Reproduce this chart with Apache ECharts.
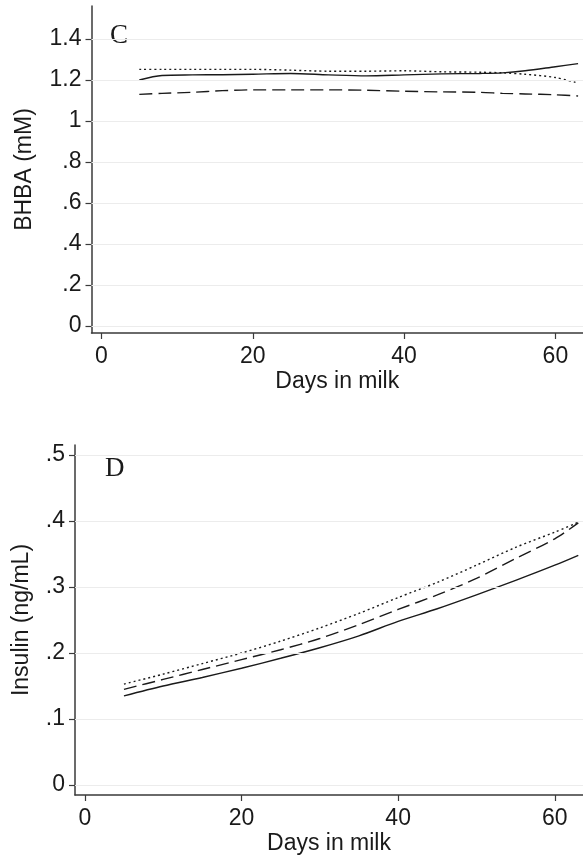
<!DOCTYPE html>
<html>
<head>
<meta charset="utf-8">
<script src="https://cdn.jsdelivr.net/npm/echarts@6/dist/echarts.min.js"></script>
<style>
html,body{margin:0;padding:0;background:#fff;}
#chart{width:583px;height:861px;}
</style>
</head>
<body>
<div id="chart"></div>
<script>
// ---- Panel C: BHBA ----
const bhbaDays   = [5, 8, 12, 16, 20, 25, 30, 35, 40, 45, 50, 53, 56, 60, 63];
const bhbaSolid  = [1.200, 1.222, 1.225, 1.226, 1.228, 1.232, 1.225, 1.220, 1.225, 1.230, 1.232, 1.235, 1.245, 1.265, 1.280];
const bhbaDotted = [1.252, 1.252, 1.252, 1.252, 1.252, 1.248, 1.243, 1.243, 1.245, 1.240, 1.238, 1.235, 1.228, 1.212, 1.185];
const bhbaDashed = [1.130, 1.135, 1.140, 1.148, 1.152, 1.152, 1.152, 1.150, 1.145, 1.142, 1.140, 1.135, 1.132, 1.128, 1.122];
const bhbaTicks  = [0, 0.2, 0.4, 0.6, 0.8, 1, 1.2, 1.4];
const bhbaTickLabels = ['0', '.2', '.4', '.6', '.8', '1', '1.2', '1.4'];

// ---- Panel D: Insulin ----
const insDays   = [5, 10, 15, 20, 25, 30, 35, 40, 45, 50, 55, 60, 63];
const insSolid  = [0.135, 0.150, 0.163, 0.177, 0.192, 0.208, 0.226, 0.248, 0.267, 0.288, 0.310, 0.333, 0.348];
const insDashed = [0.145, 0.160, 0.175, 0.190, 0.205, 0.222, 0.243, 0.266, 0.288, 0.313, 0.343, 0.373, 0.397];
const insDotted = [0.153, 0.168, 0.184, 0.200, 0.218, 0.238, 0.260, 0.284, 0.307, 0.333, 0.360, 0.383, 0.398];
const insTicks  = [0, 0.1, 0.2, 0.3, 0.4, 0.5];
const insTickLabels = ['0', '.1', '.2', '.3', '.4', '.5'];

const xTicks = [0, 20, 40, 60];
const xTickLabels = ['0', '20', '40', '60'];

const FONT = 'Liberation Sans, Arial, sans-serif';
const INK = '#1a1a1a';
const AXIS = '#3a3a3a';
const GRID = '#ececec';

function pairs(xs, ys){ return xs.map((x,i)=>[x, ys[i]]); }
function labelMap(ticks, labels){ const m={}; ticks.forEach((t,i)=>{ m[t.toFixed(3)] = labels[i]; }); return v => m[Number(v).toFixed(3)] ?? ''; }

function xAxisCfg(gridIndex, min, max){
  return {
    type:'value', gridIndex, min, max,
    name:'Days in milk', nameLocation:'middle', nameGap:37,
    nameTextStyle:{fontFamily:FONT, fontSize:23, color:INK},
    axisLine:{show:true, onZero:false, lineStyle:{color:AXIS, width:1.5}},
    axisTick:{show:true, inside:false, length:6, customValues:xTicks, lineStyle:{color:AXIS, width:1.2}},
    axisLabel:{show:true, margin:12, customValues:xTicks, fontFamily:FONT, fontSize:23, color:INK,
      formatter: labelMap(xTicks, xTickLabels)},
    splitLine:{show:false}
  };
}
function yAxisCfg(gridIndex, min, max, name, ticks, labels, nameGap){
  return {
    type:'value', gridIndex, min, max,
    name, nameLocation:'middle', nameGap, nameRotate:90,
    nameTextStyle:{fontFamily:FONT, fontSize:23, color:INK},
    axisLine:{show:true, onZero:false, lineStyle:{color:AXIS, width:1.5}},
    axisTick:{show:true, inside:false, length:6, customValues:ticks, lineStyle:{color:AXIS, width:1.2}},
    axisLabel:{show:true, margin:10, customValues:ticks, fontFamily:FONT, fontSize:23, color:INK,
      formatter: labelMap(ticks, labels)},
    splitLine:{show:false}
  };
}
function gridLines(ticks){
  return {silent:true, symbol:'none', label:{show:false}, animation:false,
    lineStyle:{color:GRID, width:1, type:'solid'},
    data: ticks.map(t=>({yAxis:t}))};
}
function lineSeries(idx, xs, ys, type, extra){
  return Object.assign({
    type:'line', xAxisIndex:idx, yAxisIndex:idx, data:pairs(xs, ys),
    showSymbol:false, symbol:'none', smooth:0.3, animation:false, z:3,
    lineStyle:{color:INK, width:1.4, type}
  }, extra||{});
}

const chart = echarts.init(document.getElementById('chart'), null, {renderer:'canvas'});
chart.setOption({
  backgroundColor:'#fff',
  animation:false,
  grid:[
    {left:91.5, top:6, right:0, height:327, containLabel:false},
    {left:75, top:445, right:0, height:350, containLabel:false}
  ],
  xAxis:[ xAxisCfg(0, -1.32, 63.65), xAxisCfg(1, -1.25, 63.6) ],
  yAxis:[
    yAxisCfg(0, -0.034, 1.561, 'BHBA (mM)', bhbaTicks, bhbaTickLabels, 55),
    yAxisCfg(1, -0.015, 0.515, 'Insulin (ng/mL)', insTicks, insTickLabels, 42)
  ],
  graphic:[
    {type:'text', left:110, top:22, style:{text:'C', font:'27px "Liberation Serif", "Times New Roman", serif', fill:INK}},
    {type:'text', left:105, top:455, style:{text:'D', font:'27px "Liberation Serif", "Times New Roman", serif', fill:INK}}
  ],
  series:[
    lineSeries(0, bhbaDays, bhbaSolid, 'solid', {markLine: gridLines(bhbaTicks), z:3}),
    lineSeries(0, bhbaDays, bhbaDotted, [2,3]),
    lineSeries(0, bhbaDays, bhbaDashed, [13,6]),
    lineSeries(1, insDays, insSolid, 'solid', {markLine: gridLines(insTicks)}),
    lineSeries(1, insDays, insDashed, [13,6]),
    lineSeries(1, insDays, insDotted, [2,3])
  ]
});
</script>
</body>
</html>
